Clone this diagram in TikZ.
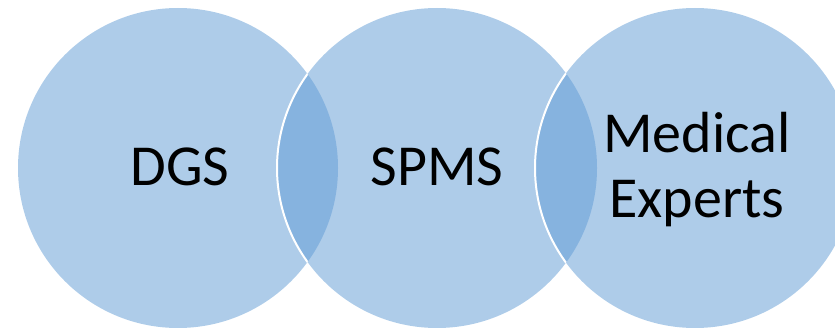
\documentclass[tikz,border=0pt]{standalone}
\usepackage{fontspec}
\setmainfont{Carlito}
\definecolor{setfill}{HTML}{AECCE9}
\definecolor{lensfill}{HTML}{86B3DF}
\begin{document}
\begin{tikzpicture}[x=1pt,y=1pt,
  setlabel/.style={font=\fontsize{58}{64}\selectfont, text=black, inner sep=0pt},
  rim/.style={draw=white, line width=2pt}]
\useasboundingbox (0,0) rectangle (835,327);
% circle centres and radius
\coordinate (c1) at (178,159);
\coordinate (c2) at (437,159);
\coordinate (c3) at (695,159);
\def\rad{160}
% set discs
\fill[setfill] (c1) circle (\rad);
\fill[setfill] (c2) circle (\rad);
\fill[setfill] (c3) circle (\rad);
% overlaps
\begin{scope}
  \clip (c1) circle (\rad);
  \fill[lensfill] (c2) circle (\rad);
  \draw[rim] (c2) circle (\rad);
\end{scope}
\begin{scope}
  \clip (c2) circle (\rad);
  \fill[lensfill] (c3) circle (\rad);
  \draw[rim] (c3) circle (\rad);
\end{scope}
% labels
\node[setlabel, anchor=base] (dgs) at (180,142) {DGS};
\node[setlabel, anchor=base] (spms) at (437,142) {SPMS};
\node[setlabel, anchor=base] (med) at (697,174) {Medical};
\node[setlabel, anchor=base] (exp) at (697,110) {Experts};
\end{tikzpicture}
\end{document}
